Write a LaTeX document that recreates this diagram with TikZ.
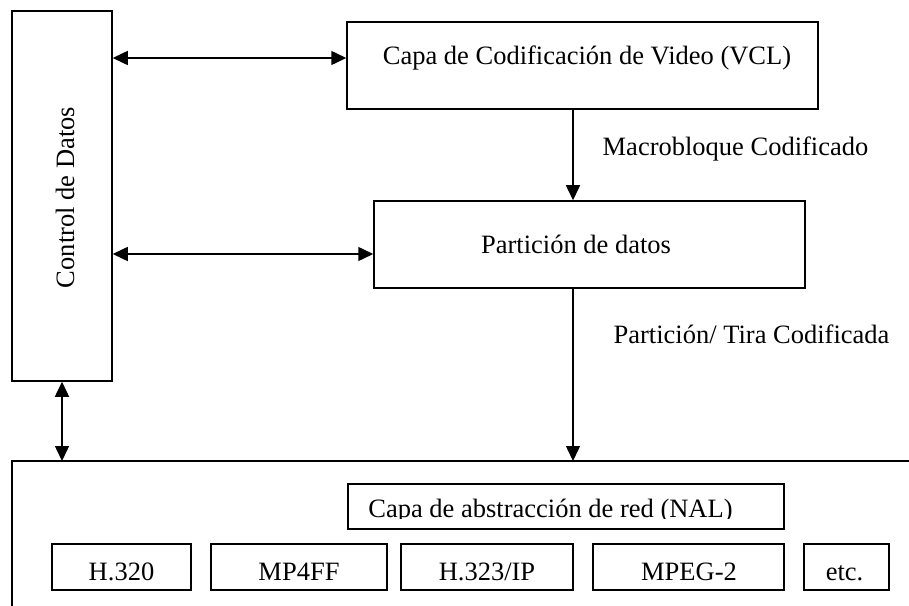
\documentclass[tikz,border=0pt]{standalone}
\usepackage{fontspec}
\setmainfont{Liberation Serif}
\usetikzlibrary{arrows.meta}
\begin{document}
\begin{tikzpicture}[x=1bp,y=-1bp,
  font=\fontsize{26.5bp}{30bp}\selectfont,
  line width=1.5bp,
  box/.style={draw, inner sep=0pt, minimum height=#1},
  box/.default=87bp,
  lbl/.style={anchor=base, inner sep=0pt},
  tip/.style={-{Triangle[length=15bp,width=14bp]}},
  dtip/.style={{Triangle[length=15bp,width=14bp]}-{Triangle[length=15bp,width=14bp]}}]
\useasboundingbox (0,0) rectangle (909,606);

% upper blocks
\node[box=370bp, minimum width=100bp] (ctl) at (62,196) {};
\node[lbl, rotate=90] (ctltxt) at (74,197.5) {Control de Datos};
\node[box, minimum width=471bp] (vcl) at (582.5,65.5) {};
\node[lbl] (vcltxt) at (587,65) {Capa de Codificación de Video (VCL)};
\node[box, minimum width=431bp] (part) at (589.5,244.5) {};
\node[lbl] (parttxt) at (576,254) {Partición de datos};

% reference points
\coordinate (colx) at (573,0);
\coordinate (rowa) at (0,58);
\coordinate (rowb) at (0,254);
\coordinate (netTL) at (12,461);
\coordinate (netTR) at (909,461);
\coordinate (netBL) at (12,606);

% network layer frame (open to the right and bottom)
\draw (netTR) -- (netTL) -- (netBL);

% NAL heading box with its clipped caption
\begin{scope}
  \clip (348,484) rectangle (784,518);
  \node[lbl] (naltxt) at (550.5,517) {Capa de abstracción de red (NAL)};
\end{scope}
\node[box=45bp, minimum width=436bp] (nal) at (566,506.5) {};

% transport boxes
\node[box=46bp, minimum width=139bp] (h320) at (121.5,567) {};
\node[box=46bp, minimum width=176bp] (mp4)  at (299,567) {};
\node[box=46bp, minimum width=172bp] (h323) at (487,567) {};
\node[box=46bp, minimum width=191bp] (mpeg) at (688.5,567) {};
\node[box=46bp, minimum width=85bp]  (etc)  at (846.5,567) {};
\node[lbl] (h320txt) at (121.5,580) {H.320};
\node[lbl] (mp4txt)  at (299,580) {MP4FF};
\node[lbl] (h323txt) at (487,580) {H.323/IP};
\node[lbl] (mpegtxt) at (689,580) {MPEG-2};
\node[lbl] (etctxt)  at (844.5,580) {etc.};

% connectors
\draw[dtip] (ctl.east |- rowa) -- (vcl.west |- rowa);
\draw[dtip] (ctl.east |- rowb) -- (part.west |- rowb);
\draw[dtip] (ctl.south) -- (ctl.south |- netTL);
\draw[tip] (vcl.south -| colx) -- (part.north -| colx);
\draw[tip] (part.south -| colx) -- (colx |- netTL);

% connector labels
\node[lbl] (mbtxt) at (735.5,156) {Macrobloque Codificado};
\node[lbl] (pttxt) at (751.5,343) {Partición/ Tira Codificada};
\end{tikzpicture}
\end{document}
